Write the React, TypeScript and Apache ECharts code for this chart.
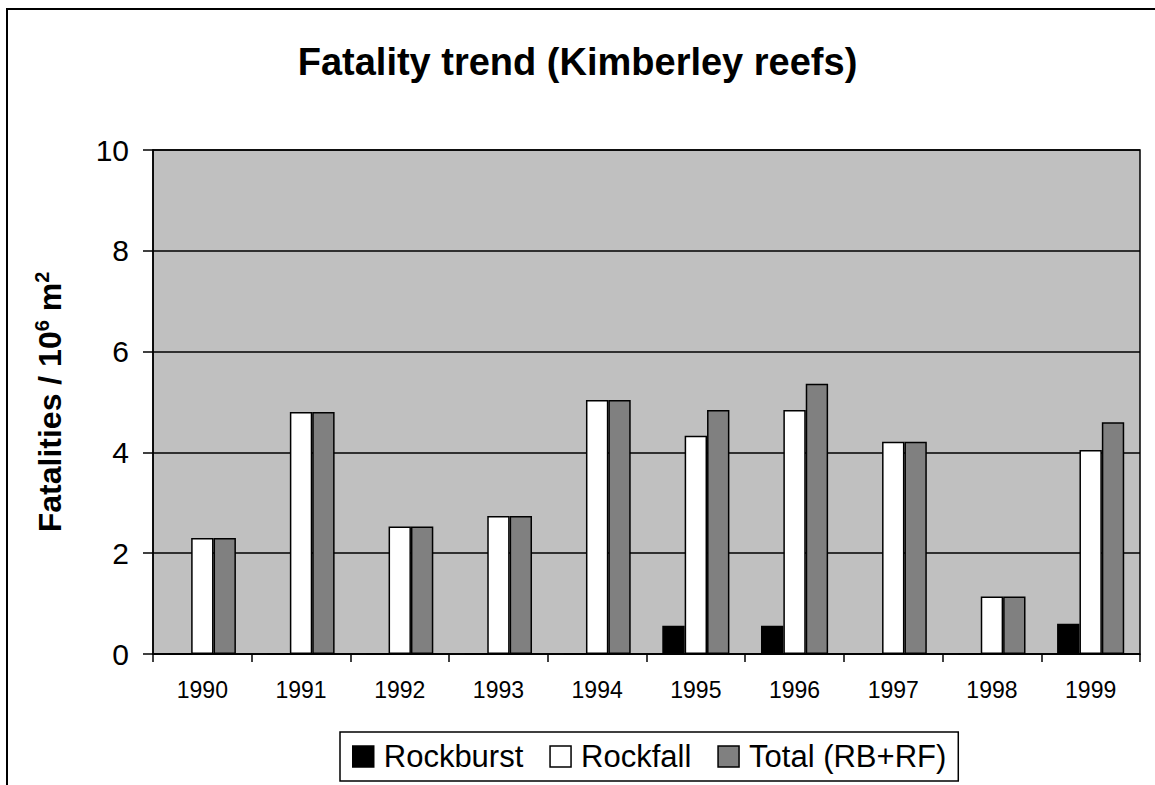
import React, { useEffect, useRef } from "react";
import * as echarts from "echarts";

const years = ["1990", "1991", "1992", "1993", "1994", "1995", "1996", "1997", "1998", "1999"];
const rockburst = [0, 0, 0, 0, 0, 0.56, 0.56, 0, 0, 0.6];
const rockfall = [2.3, 4.8, 2.53, 2.74, 5.04, 4.33, 4.84, 4.21, 1.14, 4.05];
const total = [2.3, 4.8, 2.53, 2.74, 5.04, 4.84, 5.36, 4.21, 1.14, 4.6];
const yTicks = { min: 0, max: 10, interval: 2 };

export default function App() {
  const ref = useRef<HTMLDivElement>(null);
  useEffect(() => {
    const chart = echarts.init(ref.current!, null, { renderer: "svg" });
    const font = "Arial, 'Liberation Sans', sans-serif";
    const barStyle = (color: string) => ({ color, borderColor: "#000", borderWidth: 1.5 });
    chart.setOption({
      animation: false,
      backgroundColor: "#fff",
      textStyle: { fontFamily: font, color: "#000" },
      graphic: [
        {
          type: "rect",
          shape: { x: 7, y: 9, width: 1300, height: 900 },
          style: { fill: "none", stroke: "#000", lineWidth: 2 },
          silent: true,
        },
      ],
      title: {
        text: "Fatality trend (Kimberley reefs)",
        left: "center",
        top: 38,
        textStyle: { fontFamily: font, fontSize: 38, fontWeight: "bold", color: "#000" },
      },
      grid: {
        left: 153,
        top: 150,
        right: 15,
        bottom: 131,
        show: true,
        backgroundColor: "#C0C0C0",
        borderColor: "#000",
        borderWidth: 1.5,
      },
      legend: {
        left: 340,
        top: 732,
        padding: [9, 12, 9, 12],
        itemGap: 26,
        itemWidth: 21,
        itemHeight: 21,
        icon: "rect",
        backgroundColor: "#fff",
        borderColor: "#000",
        borderWidth: 1.5,
        borderRadius: 0,
        textStyle: { fontFamily: font, fontSize: 31, color: "#000", padding: [0, 0, 0, 5] },
        itemStyle: { borderColor: "#000", borderWidth: 1.5 },
        data: ["Rockburst", "Rockfall", "Total (RB+RF)"],
      },
      xAxis: {
        type: "category",
        data: years,
        axisLine: { lineStyle: { color: "#000", width: 1.5 } },
        axisTick: { show: true, length: 8, lineStyle: { color: "#000", width: 1.5 } },
        axisLabel: { fontFamily: font, fontSize: 23, color: "#000", margin: 24 },
      },
      yAxis: {
        type: "value",
        min: yTicks.min,
        max: yTicks.max,
        interval: yTicks.interval,
        name: "{a|Fatalities / 10}{s|6}{a| m}{s|2}",
        nameLocation: "middle",
        nameRotate: 90,
        nameGap: 85,
        nameTextStyle: {
          rich: {
            a: { fontFamily: font, fontSize: 32, fontWeight: "bold", color: "#000", lineHeight: 36 },
            s: { fontFamily: font, fontSize: 20, fontWeight: "bold", color: "#000", verticalAlign: "top", lineHeight: 20 },
          },
        },
        axisLine: { show: true, lineStyle: { color: "#000", width: 1.5 } },
        axisTick: { show: true, length: 10, lineStyle: { color: "#000", width: 1.5 } },
        axisLabel: { fontFamily: font, fontSize: 30, color: "#000", margin: 24 },
        splitLine: { show: true, lineStyle: { color: "#000", width: 1.5 } },
      },
      series: [
        { name: "Rockburst", type: "bar", data: rockburst, barGap: "0%", barCategoryGap: "32%", itemStyle: barStyle("#000") },
        { name: "Rockfall", type: "bar", data: rockfall, barGap: "0%", barCategoryGap: "32%", itemStyle: barStyle("#fff") },
        { name: "Total (RB+RF)", type: "bar", data: total, barGap: "0%", barCategoryGap: "32%", itemStyle: barStyle("#808080") },
      ],
    });
    return () => chart.dispose();
  }, []);
  return <div ref={ref} style={{ position: "absolute", left: 0, top: 0, width: 1155, height: 785 }} />;
}
